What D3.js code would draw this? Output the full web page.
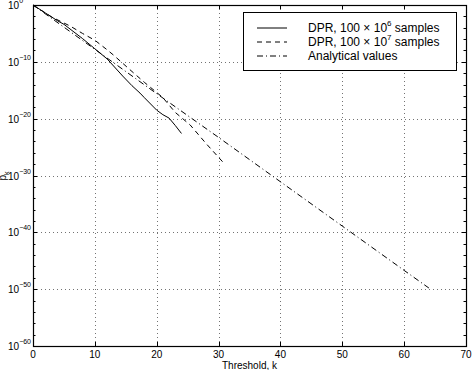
<!DOCTYPE html>
<html>
<head>
<meta charset="utf-8">
<script src="https://cdn.jsdelivr.net/npm/d3@7"></script>
<style>
  body { margin: 0; background: #fff; }
  svg { display: block; font-family: "Liberation Sans", Arial, sans-serif; }
</style>
</head>
<body>
<div id="chart"></div>
<script>
// readings from the picture, probabilities stored as log10 exponents
const kSolid = [0, 2, 4, 5, 8, 10, 12, 14.5, 16, 17.3, 18, 20, 21, 22, 23, 24];
const logSolid = [0, -1.4, -2.8, -3.4, -5.9, -7.7, -9.5, -12.5, -14.2, -15.5, -16.3, -18.5, -19.3, -19.9, -21.2, -22.6];

const kDashed = [0, 3, 6, 8, 10, 12, 13, 16, 18, 20, 21, 23, 25.4, 28, 31];
const logDashed = [0, -2.1, -3.7, -5.0, -6.2, -7.9, -8.8, -11.7, -13.6, -15.4, -16.3, -18.9, -21.1, -24.4, -28.0];

const kAnalytic = [0, 10, 20, 30, 40, 50, 60, 64];
const logAnalytic = [0, -7.8, -15.6, -23.3, -31.1, -38.9, -46.7, -49.8];

const xTicks = [0, 10, 20, 30, 40, 50, 60, 70];
const yTicks = [0, -10, -20, -30, -40, -50, -60];
const legendLabels = [
    ['DPR, 100 \u00d7 10', '6', ' samples'],
    ['DPR, 100 \u00d7 10', '7', ' samples'],
    ['Analytical values', '', '']
];

const width = 474, height = 370;
const plotL = 33, plotR = 466, plotT = 5, plotB = 346;

const svg = d3.select('#chart').append('svg')
    .attr('width', width)
    .attr('height', height);

const x = d3.scaleLinear().domain([0, 70]).range([plotL, plotR]);
const y = d3.scaleLinear().domain([-60, 0]).range([plotB, plotT]);

// grid
const grid = svg.append('g')
    .attr('stroke', '#000')
    .attr('stroke-width', 1)
    .attr('stroke-dasharray', '1,3');
grid.selectAll('.gx')
    .data(xTicks.slice(1, -1))
    .enter().append('line')
    .attr('x1', d => Math.round(x(d)) + 0.5).attr('x2', d => Math.round(x(d)) + 0.5)
    .attr('y1', plotT).attr('y2', plotB)
    .attr('stroke-opacity', 0.55);
grid.selectAll('.gy')
    .data(yTicks.slice(1, -1))
    .enter().append('line')
    .attr('y1', d => Math.round(y(d)) + 0.5).attr('y2', d => Math.round(y(d)) + 0.5)
    .attr('x1', plotL).attr('x2', plotR)
    .attr('stroke-opacity', 0.55);

// ticks, inward on all four sides
const ticks = svg.append('g').attr('stroke', '#000').attr('stroke-width', 1);
xTicks.forEach(d => {
    const px = Math.round(x(d)) + 0.5;
    ticks.append('line').attr('x1', px).attr('x2', px).attr('y1', plotB).attr('y2', plotB - 4);
    ticks.append('line').attr('x1', px).attr('x2', px).attr('y1', plotT).attr('y2', plotT + 4);
});
d3.range(-60, 1, 2).forEach(d => {
    const py = Math.round(y(d)) + 0.5;
    const len = d % 10 === 0 ? 4 : 2.5;
    ticks.append('line').attr('x1', plotL).attr('x2', plotL + len).attr('y1', py).attr('y2', py);
    ticks.append('line').attr('x1', plotR).attr('x2', plotR - len).attr('y1', py).attr('y2', py);
});

// axis box
svg.append('rect')
    .attr('x', plotL + 0.5).attr('y', plotT + 0.5)
    .attr('width', plotR - plotL).attr('height', plotB - plotT)
    .attr('fill', 'none')
    .attr('stroke', '#000')
    .attr('stroke-width', 1.2);

// tick labels
svg.selectAll('.xl')
    .data(xTicks)
    .enter().append('text')
    .attr('x', d => x(d))
    .attr('y', 358)
    .attr('text-anchor', 'middle')
    .attr('font-size', 10)
    .text(d => d);

const yl = svg.selectAll('.yl')
    .data(yTicks)
    .enter().append('text')
    .attr('x', 8)
    .attr('y', d => y(d) + 4)
    .attr('font-size', 10);
yl.append('tspan').text('10');
yl.append('tspan')
    .attr('dy', -6)
    .attr('font-size', 7)
    .text(d => d === 0 ? '0' : '\u2212' + (-d));

// axis titles
svg.append('text')
    .attr('x', (plotL + plotR) / 2)
    .attr('y', 369)
    .attr('text-anchor', 'middle')
    .attr('font-size', 10)
    .text('Threshold, k');

const ylab = svg.append('text')
    .attr('transform', 'translate(6,176) rotate(-90)')
    .attr('text-anchor', 'middle')
    .attr('font-size', 10);
ylab.append('tspan').text('p');
ylab.append('tspan').attr('dy', 3).attr('font-size', 7).text('k');

// curves
const line = d3.line()
    .x(d => x(d[0]))
    .y(d => y(d[1]));

const series = [
    { k: kSolid, v: logSolid, dash: null },
    { k: kDashed, v: logDashed, dash: '5,4' },
    { k: kAnalytic, v: logAnalytic, dash: '6,3,1,3' }
];

series.forEach(s => {
    svg.append('path')
        .datum(d3.zip(s.k, s.v))
        .attr('d', line)
        .attr('fill', 'none')
        .attr('stroke', '#000')
        .attr('stroke-width', 1)
        .attr('stroke-dasharray', s.dash);
});

// legend
const lg = svg.append('g');
lg.append('rect')
    .attr('x', 243.5).attr('y', 12.5)
    .attr('width', 213).attr('height', 58)
    .attr('fill', '#fff')
    .attr('stroke', '#000')
    .attr('stroke-width', 1);

series.forEach((s, i) => {
    const ly = 28 + i * 14;
    lg.append('line')
        .attr('x1', 257).attr('x2', 287)
        .attr('y1', ly).attr('y2', ly)
        .attr('stroke', '#000')
        .attr('stroke-width', 1)
        .attr('stroke-dasharray', s.dash);
    const t = lg.append('text')
        .attr('x', 308)
        .attr('y', ly + 4)
        .attr('font-size', 12);
    const parts = legendLabels[i];
    t.append('tspan').text(parts[0]);
    if (parts[1]) {
        t.append('tspan').attr('dy', -6).attr('font-size', 8).text(parts[1]);
        t.append('tspan').attr('dy', 6).text(parts[2]);
    }
});
</script>
</body>
</html>
